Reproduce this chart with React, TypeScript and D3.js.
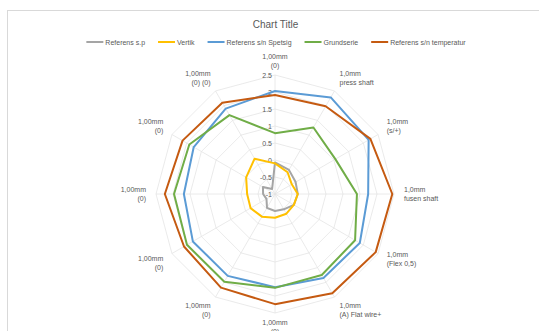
import React, { useEffect, useRef } from "react";
import * as d3 from "d3";

const categoryLine1 = ["1,00mm", "1,0mm", "1,0mm", "1,0mm", "1,0mm", "1,0mm", "1,00mm", "1,00mm", "1,00mm", "1,00mm", "1,00mm", "1,00mm"];
const categoryLine2 = ["(0)", "press shaft", "(s/+)", "fusen shaft", "(Flex 0,5)", "(A) Flat wire+", "(0)", "(0)", "(0)", "(0)", "(0)", "(0) (0)"];

const seriesNames = ["Referens s.p", "Vertik", "Referens s/n Spetsig", "Grundserie", "Referens s/n temperatur"];
const seriesColors = ["#A5A5A5", "#FFC000", "#5B9BD5", "#70AD47", "#C55A11"];

const grayValues = [-0.07, -0.18, -0.3, -0.33, -0.36, -0.48, -0.5, -0.53, -0.71, -0.65, -0.59, -0.83];
const yellowValues = [-0.1, -0.26, -0.43, -0.33, -0.36, -0.33, -0.3, -0.23, -0.17, -0.18, -0.02, 0.2];
const blueValues = [2.03, 2.28, 2.18, 1.74, 1.88, 1.85, 1.74, 1.78, 1.79, 1.68, 1.76, 1.9];
const greenValues = [0.79, 1.26, 1.05, 1.41, 1.72, 1.75, 1.76, 1.98, 1.99, 1.97, 1.91, 1.68];
const brownValues = [1.91, 1.98, 2.24, 2.45, 2.42, 2.37, 2.24, 2.18, 2.09, 2.24, 2.14, 2.1];

const tickValues = [-1, -0.5, 0, 0.5, 1, 1.5, 2, 2.5];
const tickLabels = ["-1", "-0.5", "0", "0.5", "1", "1.5", "2", "2.5"];

const W = 539;
const H = 331;
const FONT = "'Liberation Sans', Arial, sans-serif";
const TEXT = "#595959";

export default function App() {
  const ref = useRef<SVGSVGElement>(null);

  useEffect(() => {
    const svg = d3.select(ref.current);
    svg.selectAll("*").remove();

    const cx = 275;
    const cy = 194;
    const R = 119;
    const n = categoryLine1.length;
    const r = d3.scaleLinear().domain([tickValues[0], tickValues[tickValues.length - 1]]).range([0, R]);
    const ang = d3.scaleLinear().domain([0, n]).range([0, 2 * Math.PI]);

    // chart border
    svg.append("rect").attr("x", 7.5).attr("y", 10.5).attr("width", 600).attr("height", 400)
      .attr("fill", "#fff").attr("stroke", "#D9D9D9").attr("stroke-width", 1);

    svg.append("text").attr("x", W / 2 + 6).attr("y", 28).attr("text-anchor", "middle")
      .attr("font-family", FONT).attr("font-size", 10).attr("fill", TEXT).text("Chart Title");

    const g = svg.append("g").attr("transform", `translate(${cx},${cy})`);

    const idx = d3.range(n);
    const radial = d3.lineRadial<number>()
      .angle((_, i) => ang(i))
      .radius((d) => r(d))
      .curve(d3.curveLinearClosed);

    // gridlines
    tickValues.slice(1).forEach((t) => {
      g.append("path").attr("d", radial(idx.map(() => t)) as string)
        .attr("fill", "none").attr("stroke", "#E3E3E3").attr("stroke-width", 0.75);
    });
    idx.forEach((i) => {
      const a = ang(i);
      g.append("line").attr("x1", 0).attr("y1", 0)
        .attr("x2", R * Math.sin(a)).attr("y2", -R * Math.cos(a))
        .attr("stroke", "#E3E3E3").attr("stroke-width", 0.75);
    });

    // value labels
    tickValues.forEach((t, i) => {
      g.append("text").attr("x", -3).attr("y", -r(t) + 3)
        .attr("text-anchor", "end").attr("font-family", FONT).attr("font-size", 7)
        .attr("fill", TEXT).text(tickLabels[i]);
    });

    // category labels
    idx.forEach((i) => {
      const a = ang(i);
      const s = Math.sin(a);
      const c = Math.cos(a);
      const lr = R + 10;
      const x = lr * s;
      const y = -lr * c;
      const anchor = s > 0.1 ? "start" : s < -0.1 ? "end" : "middle";
      const yOff = c > 0.5 ? -4 : c < -0.5 ? 4 : 0;
      const t = g.append("text").attr("text-anchor", anchor).attr("font-family", FONT)
        .attr("font-size", 7).attr("fill", TEXT);
      t.append("tspan").attr("x", x).attr("y", y + yOff - 2).text(categoryLine1[i]);
      t.append("tspan").attr("x", x).attr("y", y + yOff + 7).text(categoryLine2[i]);
    });

    // series
    const allSeries = [grayValues, yellowValues, blueValues, greenValues, brownValues];
    allSeries.forEach((vals, si) => {
      g.append("path").attr("d", radial(vals) as string)
        .attr("fill", "none").attr("stroke", seriesColors[si]).attr("stroke-width", 2)
        .attr("stroke-linejoin", "round");
    });

    // legend
    const lg = svg.append("g");
    let xPos = 0;
    const lineLen = 17;
    const items: { x: number }[] = [];
    seriesNames.forEach((name, si) => {
      const item = lg.append("g").attr("transform", `translate(${xPos},0)`);
      item.append("line").attr("x1", 0).attr("x2", lineLen).attr("y1", 0).attr("y2", 0)
        .attr("stroke", seriesColors[si]).attr("stroke-width", 2);
      const txt = item.append("text").attr("x", lineLen + 2).attr("y", 2.5)
        .attr("font-family", FONT).attr("font-size", 7).attr("fill", TEXT).text(name);
      const w = (txt.node() as SVGTextElement).getComputedTextLength();
      items.push({ x: xPos });
      xPos += lineLen + 2 + w + 13;
    });
    const total = xPos - 13;
    lg.attr("transform", `translate(${276 - total / 2},42)`);
  }, []);

  return (
    <svg ref={ref} width={W} height={H}
      style={{ position: "absolute", left: 0, top: 0, display: "block", background: "#fff" }} />
  );
}
